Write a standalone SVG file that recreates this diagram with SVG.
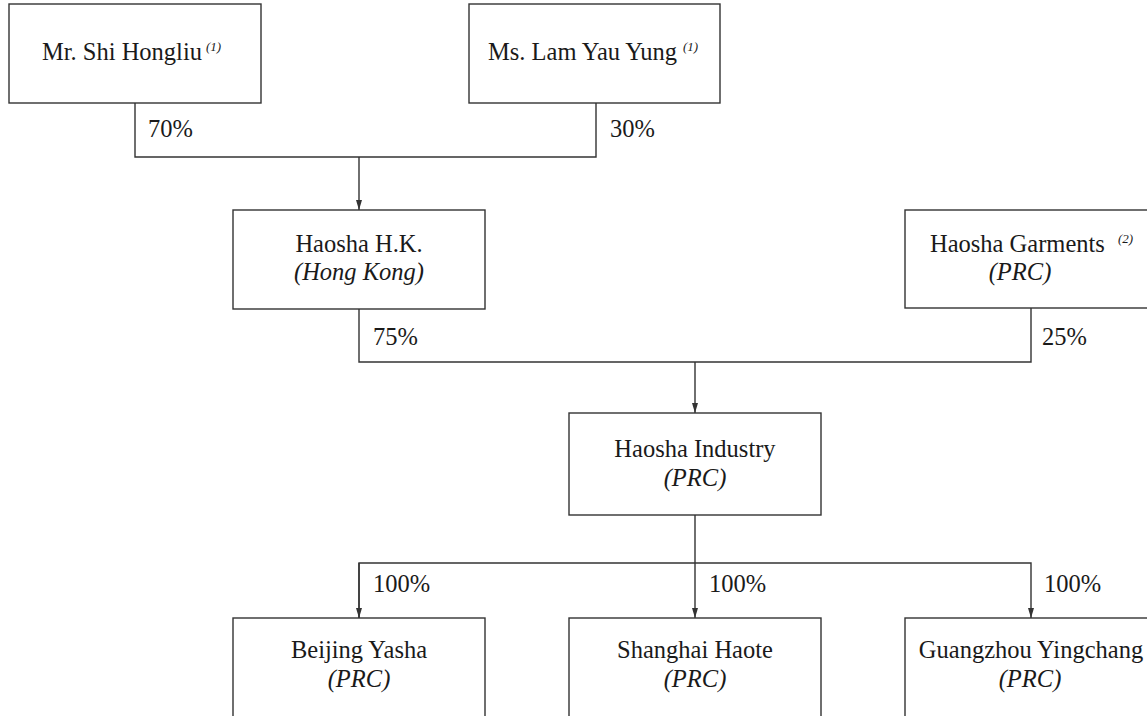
<svg xmlns="http://www.w3.org/2000/svg" width="1147" height="716" viewBox="0 0 1147 716">
<defs>
<style>
.box{fill:#fff;stroke:#333;stroke-width:1.4}
.ln{fill:none;stroke:#333;stroke-width:1.4}
.t{font-family:"Liberation Serif","Times New Roman",serif;font-size:24.5px;fill:#1a1a1a}
.c{text-anchor:middle}
.i{font-style:italic}
.sup{font-family:"Liberation Serif","Times New Roman",serif;font-size:13px;font-style:italic;fill:#1a1a1a}
</style>
<marker id="arr" viewBox="0 0 10 10" refX="10" refY="5" markerWidth="10" markerHeight="10" markerUnits="userSpaceOnUse" orient="auto">
<path d="M0,2 L10,5 L0,8 Z" fill="#333"/>
</marker>
</defs>
<rect width="1147" height="716" fill="#fff"/>
<g id="connectors">
<path class="ln" d="M135,103 V157 H596 V103"/>
<path class="ln" d="M359,157 V210" marker-end="url(#arr)"/>
<path class="ln" d="M359,309 V362 H1031 V308"/>
<path class="ln" d="M695,362 V413" marker-end="url(#arr)"/>
<path class="ln" d="M695,515 V618" marker-end="url(#arr)"/>
<path class="ln" d="M359,618 V563 H1031 V618" marker-end="url(#arr)"/>
<path class="ln" d="M359,563 V618" marker-end="url(#arr)"/>
<text class="t" x="148" y="137">70%</text>
<text class="t" x="610" y="137">30%</text>
<text class="t" x="373" y="345">75%</text>
<text class="t" x="1042" y="345">25%</text>
<text class="t" x="373" y="592">100%</text>
<text class="t" x="709" y="592">100%</text>
<text class="t" x="1044" y="592">100%</text>
</g>
<g id="n-shi">
<rect class="box" x="9" y="4" width="252" height="99"/>
<text class="t" x="42" y="60">Mr. Shi Hongliu</text>
<text class="sup" x="206" y="51">(1)</text>
</g>
<g id="n-lam">
<rect class="box" x="469" y="4" width="251" height="99"/>
<text class="t" x="488" y="60">Ms. Lam Yau Yung</text>
<text class="sup" x="683" y="51">(1)</text>
</g>
<g id="n-hk">
<rect class="box" x="233" y="210" width="252" height="99"/>
<text class="t c" x="359" y="252">Haosha H.K.</text>
<text class="t c i" x="359" y="280">(Hong Kong)</text>
</g>
<g id="n-garments">
<rect class="box" x="905" y="210" width="252" height="98"/>
<text class="t" x="930" y="252">Haosha Garments</text>
<text class="sup" x="1118" y="243">(2)</text>
<text class="t c i" x="1020" y="280">(PRC)</text>
</g>
<g id="n-industry">
<rect class="box" x="569" y="413" width="252" height="102"/>
<text class="t c" x="695" y="457">Haosha Industry</text>
<text class="t c i" x="695" y="486">(PRC)</text>
</g>
<g id="n-beijing">
<rect class="box" x="233" y="618" width="252" height="110"/>
<text class="t c" x="359" y="658">Beijing Yasha</text>
<text class="t c i" x="359" y="687">(PRC)</text>
</g>
<g id="n-shanghai">
<rect class="box" x="569" y="618" width="252" height="110"/>
<text class="t c" x="695" y="658">Shanghai Haote</text>
<text class="t c i" x="695" y="687">(PRC)</text>
</g>
<g id="n-guangzhou">
<rect class="box" x="905" y="618" width="260" height="110"/>
<text class="t c" x="1031" y="658">Guangzhou Yingchang</text>
<text class="t c i" x="1030" y="687">(PRC)</text>
</g>
</svg>
